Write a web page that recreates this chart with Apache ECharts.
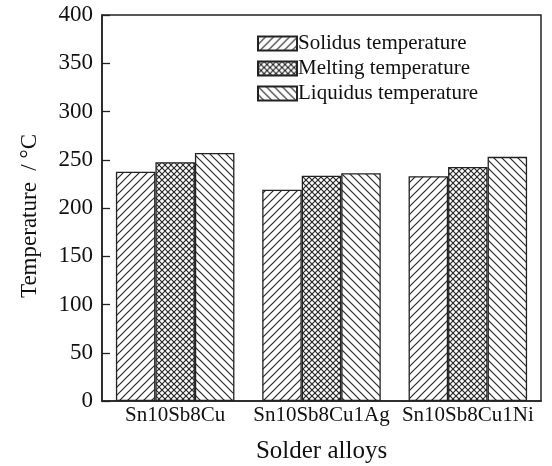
<!DOCTYPE html>
<html>
<head>
<meta charset="utf-8">
<script src="https://cdn.jsdelivr.net/npm/echarts@6/dist/echarts.min.js"></script>
<style>html,body{margin:0;padding:0;background:#fff}#c{width:552px;height:466px}</style>
</head>
<body>
<div id="c"></div>
<script>
const categories = ['Sn10Sb8Cu', 'Sn10Sb8Cu1Ag', 'Sn10Sb8Cu1Ni'];
const seriesNames = ['Solidus temperature', 'Melting temperature', 'Liquidus temperature'];
const solidus = [237.5, 219, 233];
const melting = [247.5, 233.5, 242.5];
const liquidus = [257, 236, 253];
const yTicks = [0, 50, 100, 150, 200, 250, 300, 350, 400];

function hatch(kind, size) {
  const c = document.createElement('canvas');
  c.width = size; c.height = size;
  const g = c.getContext('2d');
  g.fillStyle = '#fff'; g.fillRect(0, 0, size, size);
  g.strokeStyle = '#2a2a2a'; g.lineWidth = 1.2;
  const fwd = () => { g.beginPath(); g.moveTo(-1, size + 1); g.lineTo(size + 1, -1);
    g.moveTo(-1, 1); g.lineTo(1, -1); g.moveTo(size - 1, size + 1); g.lineTo(size + 1, size - 1); g.stroke(); };
  const back = () => { g.beginPath(); g.moveTo(-1, -1); g.lineTo(size + 1, size + 1);
    g.moveTo(size - 1, -1); g.lineTo(size + 1, 1); g.moveTo(-1, size - 1); g.lineTo(1, size + 1); g.stroke(); };
  if (kind === 'fwd') fwd();
  else if (kind === 'back') back();
  else { fwd(); back(); }
  return { image: c, repeat: 'repeat' };
}

const patterns = [hatch('fwd', 8), hatch('cross', 6), hatch('back', 8)];
const values = [solidus, melting, liquidus];
const FONT = 'Liberation Serif';

const chart = echarts.init(document.getElementById('c'));
chart.setOption({
  animation: false,
  backgroundColor: '#fff',
  grid: { left: 102, top: 15, right: 11, bottom: 65, show: true, borderColor: '#222', borderWidth: 1.5,
    backgroundColor: 'transparent', outerBoundsMode: 'none', containLabel: false },
  legend: {
    data: seriesNames,
    orient: 'vertical',
    left: 252, top: 28,
    itemWidth: 39, itemHeight: 14, itemGap: 4,
    textStyle: { fontFamily: FONT, fontSize: 21, color: '#111', padding: [0, 0, 0, -4] },
    icon: 'rect'
  },
  xAxis: {
    type: 'category',
    data: categories,
    name: 'Solder alloys',
    nameLocation: 'middle',
    nameGap: 38,
    nameTextStyle: { fontFamily: FONT, fontSize: 25, color: '#111' },
    axisLine: { lineStyle: { color: '#222', width: 1.5 } },
    axisTick: { show: false },
    axisLabel: { fontFamily: FONT, fontSize: 21, color: '#111', margin: 4, interval: 0 }
  },
  yAxis: {
    type: 'value',
    min: 0, max: 400, interval: 50,
    name: 'Temperature  / °C',
    nameLocation: 'middle',
    nameGap: 61,
    nameTextStyle: { fontFamily: FONT, fontSize: 23, color: '#111', padding: [0, 16, 0, 0] },
    axisLine: { show: true, lineStyle: { color: '#222', width: 1.5 } },
    axisTick: { show: true, inside: true, length: 8, lineStyle: { color: '#222', width: 1.3 } },
    splitLine: { show: false },
    axisLabel: { fontFamily: FONT, fontSize: 23, color: '#111', margin: 9,
      formatter: v => yTicks.includes(v) ? String(v) : '' }
  },
  series: seriesNames.map((n, i) => ({
    name: n,
    type: 'bar',
    data: values[i],
    barGap: '0%',
    barCategoryGap: '19%',
    itemStyle: { color: patterns[i], borderColor: '#222', borderWidth: 1.3 }
  }))
});
</script>
</body>
</html>
